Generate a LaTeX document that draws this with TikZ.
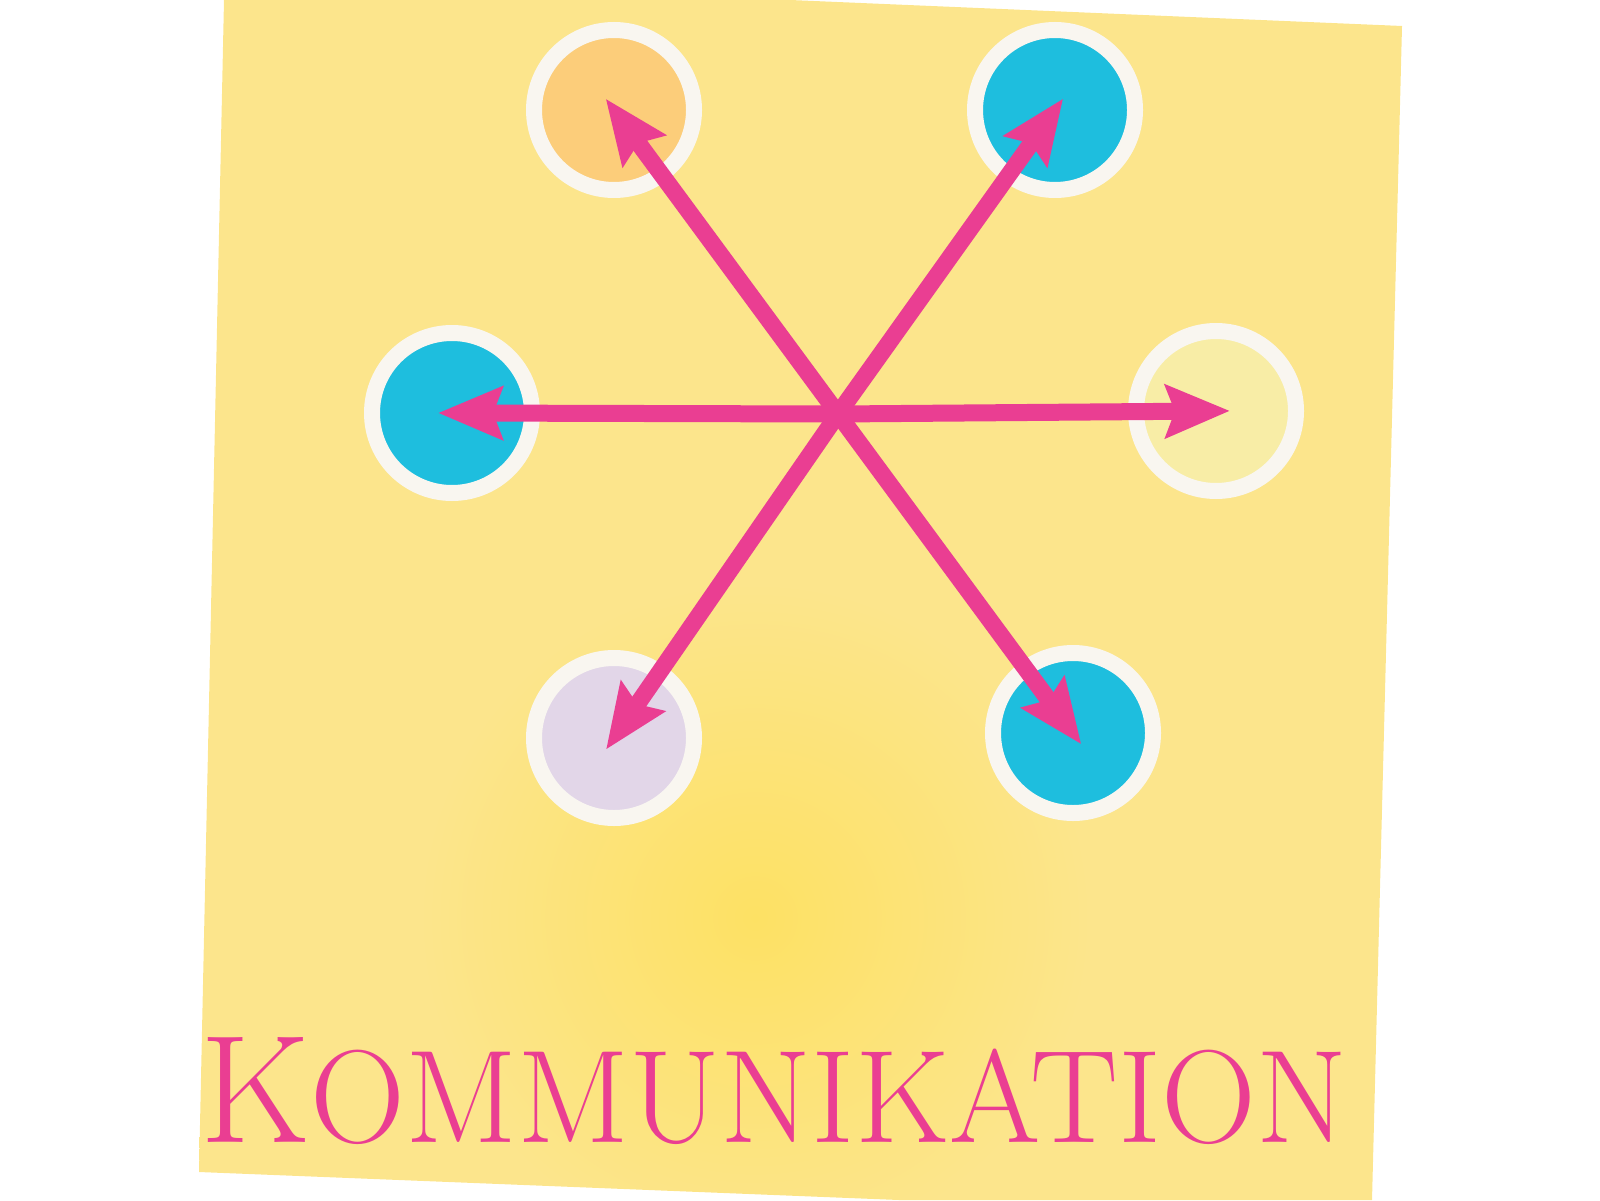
\documentclass[tikz,border=0pt]{standalone}
\usepackage{fontspec}
\usetikzlibrary{arrows.meta}

\definecolor{paper}{RGB}{252,229,140}
\definecolor{glow}{RGB}{253,225,100}
\definecolor{ringwhite}{RGB}{249,246,240}
\definecolor{cyanc}{RGB}{30,190,222}
\definecolor{orangec}{RGB}{252,205,122}
\definecolor{lavenderc}{RGB}{226,214,232}
\definecolor{palec}{RGB}{248,237,166}
\definecolor{pinkc}{RGB}{234,62,146}

\pgfdeclareradialshading{glowshade}{\pgfpoint{0bp}{0bp}}%
  {color(0bp)=(glow); color(7bp)=(paper); color(50bp)=(paper)}

\tikzset{
  ring/.style={circle,draw=ringwhite,line width=0.16cm,minimum size=1.60cm,inner sep=0pt},
  arr/.style={pinkc,line width=0.17cm,shorten >=-0.14cm,
    -{Stealth[length=0.64cm,width=0.52cm,inset=0.09cm]}}
}

\begin{document}
\begin{tikzpicture}
\useasboundingbox (0,0) rectangle (16,12);
% paper card with a soft glow near the bottom
\begin{scope}
\clip (2.24,12) -- (7.90,12) -- (14.02,11.74) -- (13.72,0) -- (8.99,0) -- (1.99,0.28) -- cycle;
\shade[shading=glowshade] (-4.45,-9.18) rectangle (19.55,14.82);
\end{scope}

% circles
\foreach \n/\x/\y/\c in {tl/6.14/10.90/orangec, tr/10.55/10.90/cyanc,
                         l/4.52/7.87/cyanc, r/12.16/7.89/palec,
                         bl/6.14/4.62/lavenderc, br/10.73/4.67/cyanc}
  \node[ring,fill=\c] (\n) at (\x,\y) {};

% arrows from the middle
\coordinate (hub) at (8.38,7.86);
\foreach \n in {tl,tr,l,r,bl,br}
  \draw[arr] (hub) -- (\n.center);

% title
\node[anchor=south west,inner sep=0pt,text=pinkc] (title) at (2.00,0.55)
  {\resizebox{11.47cm}{1.05cm}{\fontsize{20}{20}\selectfont K\fontsize{17.2}{17.2}\selectfont OMMUNIKATION}};
\end{tikzpicture}
\end{document}
